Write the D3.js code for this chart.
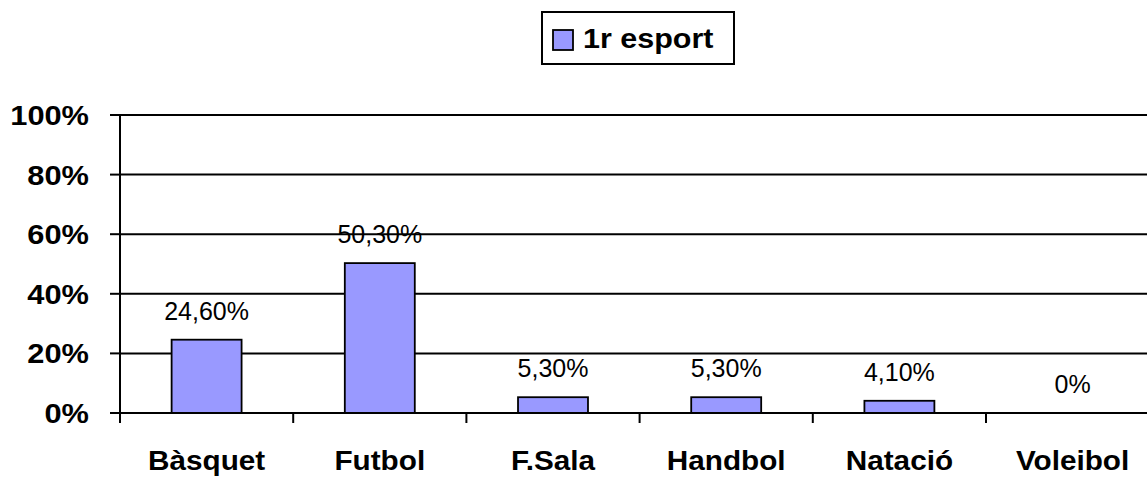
<!DOCTYPE html>
<html>
<head>
<meta charset="utf-8">
<script src="https://cdn.jsdelivr.net/npm/d3@7"></script>
<style>
  body { margin: 0; background: #fff; }
  svg { display: block; font-family: Arial, "Liberation Sans", sans-serif; }
</style>
</head>
<body>
<div id="chart"></div>
<script>
// data
const categories = ["Bàsquet", "Futbol", "F.Sala", "Handbol", "Natació", "Voleibol"];
const values = [24.6, 50.3, 5.3, 5.3, 4.1, 0];
const valueLabels = ["24,60%", "50,30%", "5,30%", "5,30%", "4,10%", "0%"];
const yTicks = [0, 20, 40, 60, 80, 100];
const seriesName = "1r esport";

const W = 1147, H = 477;
const plotLeft = 120, plotTop = 115, plotBottom = 413;
const step = 173.2;

const svg = d3.select("#chart").append("svg")
    .attr("width", W).attr("height", H);

// scales
const x = d3.scaleBand().domain(categories)
    .range([plotLeft, plotLeft + step * categories.length]).padding(0);
const y = d3.scaleLinear().domain([0, 100]).range([plotBottom, plotTop]);

// text with a little horizontal stretch, like the original
function stretchedText(g, tx, ty, txt, size, weight, anchor, sx) {
    return g.append("text")
        .attr("transform", `translate(${tx},${ty}) scale(${sx},1)`)
        .attr("text-anchor", anchor)
        .attr("font-size", size)
        .attr("font-weight", weight)
        .attr("fill", "#000")
        .text(txt);
}

// gridlines
svg.append("g").selectAll("line").data(yTicks.filter(d => d > 0)).join("line")
    .attr("x1", plotLeft).attr("x2", W)
    .attr("y1", d => y(d)).attr("y2", d => y(d))
    .attr("stroke", "#000").attr("stroke-width", 2);

// bars
const bw = x.bandwidth() * 0.404;
svg.append("g").selectAll("rect").data(values).join("rect")
    .attr("x", (d, i) => x(categories[i]) + x.bandwidth() / 2 - bw / 2)
    .attr("y", d => y(d))
    .attr("width", bw)
    .attr("height", d => y(0) - y(d))
    .attr("fill", "#9999FF")
    .attr("stroke", "#000").attr("stroke-width", 1.8);

// x axis line + ticks
svg.append("line").attr("x1", plotLeft).attr("x2", W)
    .attr("y1", y(0)).attr("y2", y(0))
    .attr("stroke", "#000").attr("stroke-width", 2);
svg.append("g").selectAll("line").data(categories).join("line")
    .attr("x1", d => x(d)).attr("x2", d => x(d))
    .attr("y1", y(0)).attr("y2", y(0) + 10)
    .attr("stroke", "#000").attr("stroke-width", 2);

// y axis line + ticks
svg.append("line").attr("x1", plotLeft).attr("x2", plotLeft)
    .attr("y1", y(100)).attr("y2", y(0) + 10)
    .attr("stroke", "#000").attr("stroke-width", 2);
svg.append("g").selectAll("line").data(yTicks).join("line")
    .attr("x1", plotLeft - 10).attr("x2", plotLeft)
    .attr("y1", d => y(d)).attr("y2", d => y(d))
    .attr("stroke", "#000").attr("stroke-width", 2);

// y tick labels
const yl = svg.append("g");
yTicks.forEach(t => stretchedText(yl, 89, y(t) + 10, t + "%", 28, "bold", "end", 1.1));

// category labels
const xl = svg.append("g");
categories.forEach(c => stretchedText(xl, x(c) + x.bandwidth() / 2, 470, c, 27, "bold", "middle", 1.1));

// value labels
const vl = svg.append("g");
values.forEach((v, i) => stretchedText(vl, x(categories[i]) + x.bandwidth() / 2, y(v) - 20,
    valueLabels[i], 25, "normal", "middle", 1.0));

// legend
const lg = svg.append("g");
lg.append("rect").attr("x", 542).attr("y", 12).attr("width", 192).attr("height", 52)
    .attr("fill", "#fff").attr("stroke", "#000").attr("stroke-width", 2);
lg.append("rect").attr("x", 553).attr("y", 30).attr("width", 20).attr("height", 20)
    .attr("fill", "#9999FF").attr("stroke", "#000").attr("stroke-width", 1.8);
stretchedText(lg, 583, 48, seriesName, 27, "bold", "start", 1.13);
</script>
</body>
</html>
